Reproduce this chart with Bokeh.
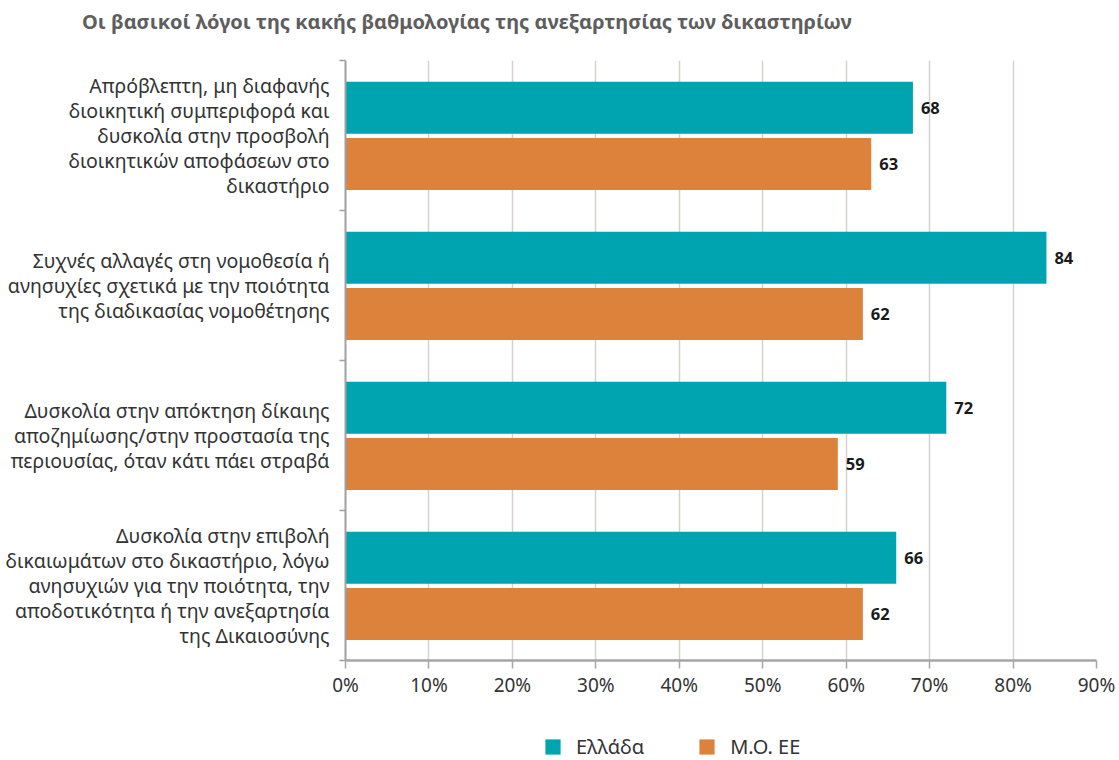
from bokeh.plotting import figure
from bokeh.layouts import column
from bokeh.models import (ColumnDataSource, FixedTicker, LabelSet, Legend,
                          LegendItem, Range1d, LinearAxis, Div)
from bokeh.core.properties import value
from bokeh.embed import file_html
from bokeh.resources import INLINE

# ---------------- data ----------------
title_text = "Οι βασικοί λόγοι της κακής βαθμολογίας της ανεξαρτησίας των δικαστηρίων"
categories = [
    "Απρόβλεπτη, μη διαφανής\nδιοικητική συμπεριφορά και\nδυσκολία στην προσβολή\n"
    "διοικητικών αποφάσεων στο\nδικαστήριο",
    "Συχνές αλλαγές στη νομοθεσία ή\nανησυχίες σχετικά με την ποιότητα\n"
    "της διαδικασίας νομοθέτησης",
    "Δυσκολία στην απόκτηση δίκαιης\nαποζημίωσης/στην προστασία της\n"
    "περιουσίας, όταν κάτι πάει στραβά",
    "Δυσκολία στην επιβολή\nδικαιωμάτων στο δικαστήριο, λόγω\n"
    "ανησυχιών για την ποιότητα, την\nαποδοτικότητα ή την ανεξαρτησία\n"
    "της Δικαιοσύνης",
]
series_names = ["Ελλάδα", "Μ.Ο. ΕΕ"]
greece = [68, 84, 72, 66]
eu_avg = [63, 62, 59, 62]
x_ticks = [0, 10, 20, 30, 40, 50, 60, 70, 80, 90]
x_tick_labels = ["0%", "10%", "20%", "30%", "40%", "50%", "60%", "70%", "80%", "90%"]

# ---------------- style ----------------
FONT = "Noto Sans"
TEAL = "#00a4b1"
ORANGE = "#dc823b"
TEXT = "#333333"
n = len(categories)
centers = [n - i - 0.5 for i in range(n)]
bar_h = 0.347

# ---------------- title ----------------
title_div = Div(text=title_text, width=1119, height=40, margin=(0, 0, 0, 0),
                styles={"font-family": FONT, "font-size": "20px",
                        "font-weight": "bold", "color": "#5e5e5e",
                        "padding-left": "82px", "padding-top": "8px",
                        "line-height": "27px", "white-space": "nowrap"})

# ---------------- main chart ----------------
p = figure(width=1119, height=670, output_backend="svg", toolbar_location=None,
           x_range=Range1d(0, 90), y_range=Range1d(0, n),
           min_border_left=345, min_border_right=23, min_border_top=20,
           min_border_bottom=50)
p.outline_line_color = None
p.background_fill_color = "white"
p.border_fill_color = "white"

src_gr = ColumnDataSource(dict(y=[c + 0.185 for c in centers], v=greece,
                               t=[str(v) for v in greece]))
src_eu = ColumnDataSource(dict(y=[c - 0.19 for c in centers], v=eu_avg,
                               t=[str(v) for v in eu_avg]))

r_gr = p.hbar(y="y", right="v", left=0, height=bar_h, source=src_gr,
              fill_color=TEAL, line_color=None)
r_eu = p.hbar(y="y", right="v", left=0, height=bar_h, source=src_eu,
              fill_color=ORANGE, line_color=None)

for src in (src_gr, src_eu):
    p.add_layout(LabelSet(x="v", y="y", text="t", source=src, x_offset=8,
                          text_align="left", text_baseline="middle",
                          text_font=value(FONT), text_font_size="16.5px",
                          text_font_style="bold", text_color="#1a1a1a"))

# grid
p.ygrid.visible = False
p.xgrid.ticker = FixedTicker(ticks=x_ticks)
p.xgrid.grid_line_color = "#d6d1cc"
p.xgrid.grid_line_width = 1.5

# x axis
xa = p.xaxis[0]
xa.ticker = FixedTicker(ticks=x_ticks)
xa.major_label_overrides = {t: l for t, l in zip(x_ticks, x_tick_labels)}
xa.axis_line_color = "#a6a6a6"
xa.axis_line_width = 2.5
xa.major_tick_line_color = "#a6a6a6"
xa.major_tick_line_width = 1.5
xa.major_tick_out = 8
xa.major_tick_in = 0
xa.minor_tick_line_color = None
xa.major_label_standoff = 3
xa.major_label_text_font = FONT
xa.major_label_text_font_size = "19px"
xa.major_label_text_color = TEXT

# y axis (category boundaries only)
ya = p.yaxis[0]
ya.ticker = FixedTicker(ticks=list(range(n + 1)))
ya.major_label_overrides = {i: "" for i in range(n + 1)}
ya.major_label_standoff = 0
ya.axis_line_color = "#a0a0a0"
ya.axis_line_width = 2
ya.major_tick_line_color = "#a0a0a0"
ya.major_tick_line_width = 1.5
ya.major_tick_out = 6
ya.major_tick_in = 0
ya.minor_tick_line_color = None

# category label axis
la = LinearAxis(ticker=FixedTicker(ticks=centers),
                major_label_overrides={c: t for c, t in zip(centers, categories)},
                axis_line_color=None, major_tick_line_color=None,
                minor_tick_line_color=None, major_label_standoff=4,
                major_label_text_font=FONT, major_label_text_font_size="19.5px",
                major_label_text_color=TEXT, major_label_text_align="right",
                major_label_text_line_height=0.92)
p.add_layout(la, "left")

# ---------------- legend strip ----------------
p2 = figure(width=1119, height=50, output_backend="svg", toolbar_location=None,
            x_axis_location=None, y_axis_location=None, min_border=0,
            x_range=Range1d(0, 90), y_range=Range1d(100, 101))
p2.outline_line_color = None
p2.grid.visible = False
# same series, outside the visible range: they only feed the legend swatches
lg_gr = p2.hbar(y="y", right="v", left=0, height=0, source=src_gr,
                fill_color=TEAL, line_color=None)
lg_eu = p2.hbar(y="y", right="v", left=0, height=0, source=src_eu,
                fill_color=ORANGE, line_color=None)
legend = Legend(items=[LegendItem(label=series_names[0], renderers=[lg_gr]),
                       LegendItem(label=series_names[1], renderers=[lg_eu])],
                orientation="horizontal", location=(198, 0),
                glyph_width=19, glyph_height=19, label_standoff=14, spacing=53,
                padding=0, margin=0, border_line_color=None,
                background_fill_alpha=0,
                label_text_font=FONT, label_text_font_size="20px",
                label_text_color=TEXT)
p2.add_layout(legend, "center")

open("out.html", "w").write(file_html(column(title_div, p, p2), INLINE))
